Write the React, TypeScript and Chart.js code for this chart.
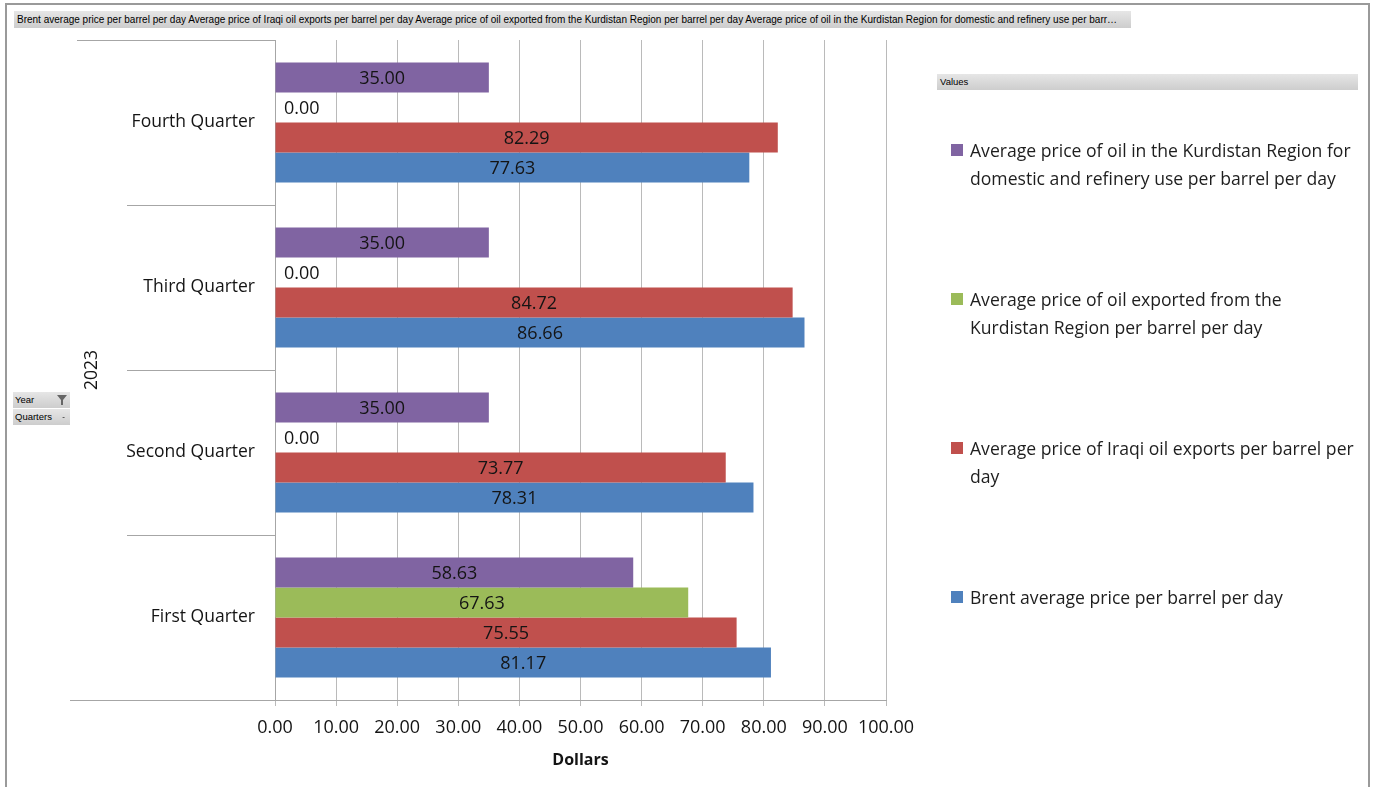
import { useEffect, useRef } from "react";
import { Chart, registerables } from "chart.js";

Chart.register(...registerables);

// ---- data ----
const QUARTERS = ["Fourth Quarter", "Third Quarter", "Second Quarter", "First Quarter"];
const YEAR_LABEL = "2023";

// series in their natural order (Brent first)
const SERIES_NAMES = [
  "Brent average price per barrel per day",
  "Average price of Iraqi oil exports per barrel per day",
  "Average price of oil exported from the Kurdistan Region per barrel per day",
  "Average price of oil in the Kurdistan Region for domestic and refinery use per barrel per day",
];
const SERIES_COLORS = ["#4F81BD", "#C0504D", "#9BBB59", "#8064A2"];

// values listed in QUARTERS order (Fourth → First)
const BRENT = [77.63, 86.66, 78.31, 81.17];
const IRAQI_EXPORTS = [82.29, 84.72, 73.77, 75.55];
const KRG_EXPORTS = [0, 0, 0, 67.63];
const KRG_DOMESTIC = [35.0, 35.0, 35.0, 58.63];
const SERIES_VALUES = [BRENT, IRAQI_EXPORTS, KRG_EXPORTS, KRG_DOMESTIC];

const X_MIN = 0;
const X_MAX = 100;
const X_STEP = 10;
const X_TITLE = "Dollars";
const FIELD_BUTTONS = ["Year", "Quarters"];
const VALUES_LABEL = "Values";

const FONT = "'Open Sans', 'Noto Sans', sans-serif";
const SMALL_FONT = "'Liberation Sans', Arial, sans-serif";
const W = 1375;
const H = 787;

// draws the value of each bar inside it
const barLabels = {
  id: "barLabels",
  afterDatasetsDraw(chart: any) {
    const ctx = chart.ctx as CanvasRenderingContext2D;
    ctx.save();
    ctx.font = `18px ${FONT}`;
    ctx.fillStyle = "#141414";
    ctx.textBaseline = "middle";
    ctx.textAlign = "center";
    chart.data.datasets.forEach((ds: any, di: number) => {
      const meta = chart.getDatasetMeta(di);
      meta.data.forEach((bar: any, i: number) => {
        const v = ds.data[i] as number;
        const text = v.toFixed(2);
        const { x, y, base } = bar.getProps(["x", "y", "base"], true);
        const w = ctx.measureText(text).width;
        let cx = (x + base) / 2;
        if (x - base < w + 6) cx = base + 9 + w / 2;
        ctx.fillText(text, cx, y + 1.5);
      });
    });
    ctx.restore();
  },
};

// year / quarter bands on the category side
const pivotFrame = {
  id: "pivotFrame",
  afterDraw(chart: any) {
    const ctx = chart.ctx as CanvasRenderingContext2D;
    const a = chart.chartArea;
    const y = chart.scales.y;
    const line = (x1: number, y1: number, x2: number, y2: number) => {
      ctx.beginPath();
      ctx.moveTo(x1, y1);
      ctx.lineTo(x2, y2);
      ctx.stroke();
    };
    ctx.save();
    ctx.strokeStyle = "#a6a6a6";
    ctx.lineWidth = 1;
    const top = Math.round(a.top) + 0.5;
    const bottom = Math.round(a.bottom) + 0.5;
    line(77, top, a.left, top);
    line(70, bottom, a.left, bottom);
    for (let i = 1; i < QUARTERS.length; i++) {
      const yy = Math.round((y.getPixelForValue(i - 1) + y.getPixelForValue(i)) / 2) + 0.5;
      line(127, yy, a.left, yy);
    }
    ctx.fillStyle = "#141414";
    ctx.font = `17.5px ${FONT}`;
    ctx.textAlign = "center";
    ctx.textBaseline = "middle";
    ctx.translate(92, (a.top + a.bottom) / 2);
    ctx.rotate(-Math.PI / 2);
    ctx.fillText(YEAR_LABEL, 0, 0);
    ctx.restore();
  },
};

function FunnelIcon() {
  return (
    <svg width="10" height="10" viewBox="0 0 10 10" style={{ position: "absolute", right: 3, top: 3 }}>
      <polygon points="0,0 10,0 6,5 6,10 4,10 4,5" fill="#666" />
    </svg>
  );
}

export default function App() {
  const canvasRef = useRef<HTMLCanvasElement | null>(null);

  useEffect(() => {
    const canvas = canvasRef.current;
    if (!canvas) return;
    // top-most bar in each group is the last series
    const order = [3, 2, 1, 0];
    const chart = new Chart(canvas, {
      type: "bar",
      data: {
        labels: QUARTERS,
        datasets: order.map((s) => ({
          label: SERIES_NAMES[s],
          data: SERIES_VALUES[s],
          backgroundColor: SERIES_COLORS[s],
          borderWidth: 0,
          categoryPercentage: 0.727,
          barPercentage: 1,
        })),
      },
      options: {
        indexAxis: "y",
        responsive: false,
        animation: false,
        devicePixelRatio: 1,
        layout: { padding: { left: 0, top: 40, right: W - 886, bottom: 0 } },
        plugins: {
          legend: { display: false },
          tooltip: { enabled: false },
          title: { display: false },
        },
        scales: {
          x: {
            type: "linear",
            min: X_MIN,
            max: X_MAX,
            ticks: {
              stepSize: X_STEP,
              color: "#141414",
              font: { family: FONT, size: 18 },
              padding: 11,
              maxRotation: 0,
              callback: (v: any) => Number(v).toFixed(2),
            },
            grid: {
              color: "#bababa",
              lineWidth: 1,
              drawTicks: true,
              tickLength: 6,
              tickColor: "#bababa",
            },
            border: { display: true, color: "#a6a6a6" },
            title: {
              display: true,
              text: X_TITLE,
              color: "#141414",
              font: { family: FONT, size: 16, weight: "bold" },
              padding: { top: 0, bottom: 17 },
            },
            afterFit: (scale: any) => {
              scale.height = H - 700;
            },
          },
          y: {
            type: "category",
            ticks: {
              color: "#141414",
              font: { family: FONT, size: 17.5 },
              padding: 20,
            },
            grid: { display: true, drawOnChartArea: false, drawTicks: false, color: "rgba(0,0,0,0)" },
            border: { display: true, color: "#a6a6a6" },
            afterFit: (scale: any) => {
              scale.width = 275;
            },
          },
        },
      },
      plugins: [barLabels, pivotFrame],
    } as any);
    return () => chart.destroy();
  }, []);

  const headerText = SERIES_NAMES.join(" ");
  // legend lists the series from top group bar to bottom
  const legendOrder = [3, 2, 1, 0];
  const legendLineCenters = [150, 299, 448, 597];
  const grayBar = "linear-gradient(#e6e6e6, #cdcdcd)";

  return (
    <div
      style={{
        position: "fixed",
        left: 0,
        top: 0,
        width: W,
        height: H,
        background: "#ffffff",
        overflow: "hidden",
        fontFamily: FONT,
      }}
    >
      <div
        style={{
          position: "absolute",
          left: 5,
          top: 3,
          width: 1361,
          height: 800,
          borderTop: "2px solid #9a9a9a",
          borderLeft: "2px solid #9a9a9a",
          borderRight: "2px solid #9a9a9a",
        }}
      />
      <canvas ref={canvasRef} width={W} height={H} style={{ position: "absolute", left: 0, top: 0 }} />
      <div
        style={{
          position: "absolute",
          left: 14,
          top: 11,
          width: 1117,
          height: 17,
          background: grayBar,
          fontFamily: SMALL_FONT,
          fontSize: 10,
          lineHeight: "17px",
          color: "#000",
          whiteSpace: "nowrap",
          overflow: "hidden",
          textOverflow: "ellipsis",
          padding: "0 12px 0 3px",
          boxSizing: "border-box",
        }}
      >
        {headerText}
      </div>
      <div
        style={{
          position: "absolute",
          left: 937,
          top: 74,
          width: 421,
          height: 16,
          background: grayBar,
          fontFamily: SMALL_FONT,
          fontSize: 9.5,
          lineHeight: "16px",
          color: "#000",
          paddingLeft: 3,
          boxSizing: "border-box",
        }}
      >
        {VALUES_LABEL}
      </div>
      {FIELD_BUTTONS.map((name, i) => (
        <div
          key={name}
          style={{
            position: "absolute",
            left: 13,
            top: 392 + i * 17,
            width: 57,
            height: 16,
            background: grayBar,
            fontFamily: SMALL_FONT,
            fontSize: 9.5,
            lineHeight: "16px",
            color: "#000",
            paddingLeft: 2,
            boxSizing: "border-box",
          }}
        >
          {name}
          {i === 0 ? (
            <FunnelIcon />
          ) : (
            <span style={{ position: "absolute", right: 5, top: 0, fontSize: 8 }}>-</span>
          )}
        </div>
      ))}
      {legendOrder.map((s, k) => (
        <div
          key={s}
          style={{
            position: "absolute",
            left: 951,
            top: legendLineCenters[k] - 14,
            width: 412,
          }}
        >
          <div
            style={{
              position: "absolute",
              left: 0,
              top: 8,
              width: 12,
              height: 12,
              background: SERIES_COLORS[s],
            }}
          />
          <div
            style={{
              marginLeft: 19,
              fontSize: 17.6,
              lineHeight: "28px",
              color: "#1e1e1e",
              width: 388,
            }}
          >
            {SERIES_NAMES[s]}
          </div>
        </div>
      ))}
    </div>
  );
}
